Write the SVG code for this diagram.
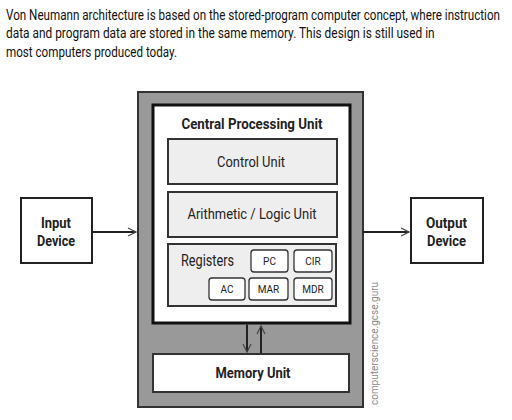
<svg xmlns="http://www.w3.org/2000/svg" width="512" height="420" viewBox="0 0 512 420">
<defs>
<style>
text{font-family:Roboto,"Liberation Sans",sans-serif;fill:#222}
.hd{font-size:15px;fill:#111}
.b{font-weight:bold}
.box{fill:#eeeeee;stroke:#333;stroke-width:2}
.reg{fill:#fff;stroke:#333;stroke-width:1.3}
.rt{font-size:10px;text-anchor:middle}
.ln{stroke:#222;stroke-width:2;fill:none}
</style>
<marker id="ah" viewBox="0 0 10 10" refX="9" refY="5" markerWidth="10" markerHeight="10" markerUnits="userSpaceOnUse" orient="auto">
<path d="M1,1 L9,5 L1,9" fill="none" stroke="#444" stroke-width="1.2"/>
</marker>
</defs>
<rect width="512" height="420" fill="#fff"/>
<g id="header" transform="matrix(0.76 0 0 1 6 0)">
<text class="hd" x="0" y="20" textLength="650" lengthAdjust="spacingAndGlyphs">Von Neumann architecture is based on the stored-program computer concept, where instruction</text>
<text class="hd" x="0" y="38" textLength="564" lengthAdjust="spacingAndGlyphs">data and program data are stored in the same memory.  This design is still used in</text>
<text class="hd" x="0" y="57" textLength="225" lengthAdjust="spacingAndGlyphs">most computers produced today.</text>
</g>
<g id="system">
<rect x="138" y="92" width="225" height="315" fill="#999" stroke="#333" stroke-width="2"/>
</g>
<g id="cpu">
<rect x="153" y="105" width="197" height="218" fill="#fff" stroke="#111" stroke-width="3"/>
<text class="b" x="252" y="129" font-size="15" text-anchor="middle" textLength="141" lengthAdjust="spacingAndGlyphs">Central Processing Unit</text>
</g>
<g id="control-unit">
<rect class="box" x="168" y="139" width="169" height="45"/>
<text x="251" y="167" font-size="15" text-anchor="middle" textLength="68" lengthAdjust="spacingAndGlyphs">Control Unit</text>
</g>
<g id="alu">
<rect class="box" x="168" y="192" width="169" height="45"/>
<text x="252" y="219" font-size="15" text-anchor="middle" textLength="129" lengthAdjust="spacingAndGlyphs">Arithmetic / Logic Unit</text>
</g>
<g id="registers">
<rect class="box" x="168" y="244" width="168" height="62"/>
<text x="181" y="266" font-size="17" textLength="53" lengthAdjust="spacingAndGlyphs">Registers</text>
</g>
<g id="pc"><rect class="reg" x="251" y="250" width="37" height="22" rx="3"/><text class="rt" x="269.5" y="265">PC</text></g>
<g id="cir"><rect class="reg" x="294" y="250" width="38" height="22" rx="3"/><text class="rt" x="313" y="265">CIR</text></g>
<g id="ac"><rect class="reg" x="209" y="278" width="36" height="22" rx="3"/><text class="rt" x="227" y="293">AC</text></g>
<g id="mar"><rect class="reg" x="249" y="278" width="39" height="22" rx="3"/><text class="rt" x="268.5" y="293">MAR</text></g>
<g id="mdr"><rect class="reg" x="294" y="278" width="38" height="22" rx="3"/><text class="rt" x="313" y="293">MDR</text></g>
<g id="memory-unit">
<rect x="153" y="354" width="196" height="38" fill="#fff" stroke="#333" stroke-width="2"/>
<text class="b" x="253" y="378" font-size="15" text-anchor="middle" textLength="75" lengthAdjust="spacingAndGlyphs">Memory Unit</text>
</g>
<g id="input-device">
<rect x="21" y="198" width="71" height="65" fill="#fff" stroke="#222" stroke-width="2"/>
<text class="b" x="56" y="228" font-size="14" text-anchor="middle" textLength="30" lengthAdjust="spacingAndGlyphs">Input</text>
<text class="b" x="56" y="246" font-size="14" text-anchor="middle" textLength="38" lengthAdjust="spacingAndGlyphs">Device</text>
</g>
<g id="output-device">
<rect x="411" y="198" width="72" height="65" fill="#fff" stroke="#222" stroke-width="2"/>
<text class="b" x="446.5" y="228" font-size="14" text-anchor="middle" textLength="41" lengthAdjust="spacingAndGlyphs">Output</text>
<text class="b" x="446.5" y="246" font-size="14" text-anchor="middle" textLength="39" lengthAdjust="spacingAndGlyphs">Device</text>
</g>
<g id="connectors">
<line class="ln" x1="92" y1="232" x2="136" y2="232" marker-end="url(#ah)"/>
<line class="ln" x1="363" y1="232" x2="409" y2="232" marker-end="url(#ah)"/>
<line class="ln" x1="247" y1="324.5" x2="247" y2="352" marker-end="url(#ah)"/>
<line class="ln" x1="261" y1="353" x2="261" y2="326" marker-end="url(#ah)"/>
</g>
<text x="378" y="405" font-size="11" style="fill:#8a8a8a" transform="rotate(-90 378 405)" textLength="123" lengthAdjust="spacingAndGlyphs">computerscience.gcse.guru</text>
</svg>
